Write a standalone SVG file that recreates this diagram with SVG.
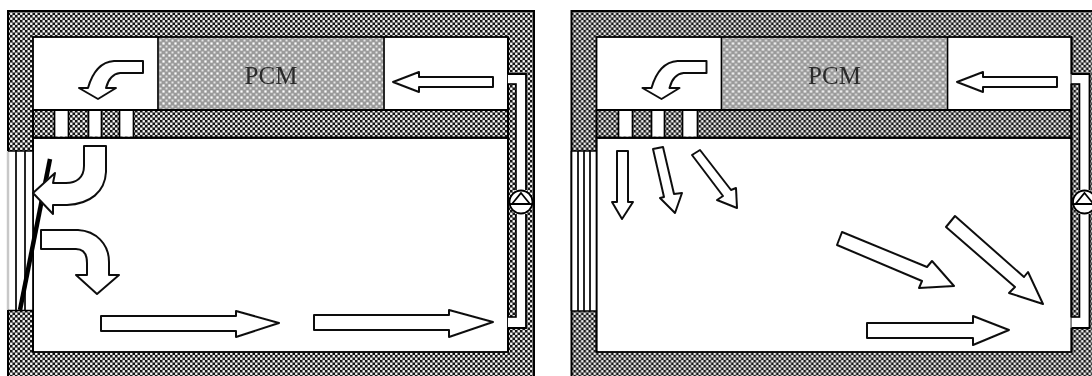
<svg xmlns="http://www.w3.org/2000/svg" width="1092" height="376" viewBox="0 0 1092 376">
<style>
.wall{fill:url(#chk);stroke:#000;stroke-width:2}
.room{fill:#fff;stroke:#000;stroke-width:1.8}
.pcm{fill:url(#dots);stroke:none}
.arrow{fill:#fff;stroke:#111;stroke-width:2;stroke-linejoin:round}
.slot{fill:#fff;stroke:none}
.glass{stroke:#000;stroke-width:1.7;fill:none}
.thin{fill:url(#chk);stroke:#000;stroke-width:1.6}
.soft{filter:url(#soft)}
text{font-family:"Liberation Serif","Times New Roman",serif;font-size:25px;fill:#2a2a2a;text-anchor:middle}
</style>
<defs>
<filter id="soft" x="-5%" y="-5%" width="110%" height="110%" filterUnits="objectBoundingBox"><feGaussianBlur stdDeviation="0.4"/></filter>
<pattern id="chk" width="5" height="5" patternUnits="userSpaceOnUse">
<rect width="5" height="5" fill="#777"/>
<rect x="0" y="0" width="2.500" height="2.500" fill="#141414"/>
<rect x="2.500" y="2.500" width="2.500" height="2.500" fill="#141414"/>
<rect x="2.700" y="0.200" width="2.100" height="2.100" fill="#fff"/>
<rect x="0.200" y="2.700" width="2.100" height="2.100" fill="#fff"/>
</pattern>
<pattern id="dots" width="6" height="6" patternUnits="userSpaceOnUse">
<rect width="6" height="6" fill="#9a9a9a"/>
<rect x="0.400" y="0.400" width="2.200" height="2.200" fill="#fff"/>
<rect x="3.500" y="3.500" width="2" height="2" fill="#e6e6e6"/>
</pattern>
<g id="top">
<rect class="wall" x="8" y="11" width="526" height="372"/>
<rect class="room" x="33" y="37" width="475" height="73"/>
<rect class="pcm" x="159" y="38" width="224" height="71"/>
<path class="glass" d="M158 37V110M384 37V110"/>
<rect class="room" x="33" y="138" width="475" height="214"/>
<rect x="33" y="110" width="475" height="27.500" class="wall"/>
<rect x="508" y="74" width="18" height="254" fill="#fff"/>
<path fill="none" stroke="#000" stroke-width="1.800" d="M508 74H526V328H508"/>
<rect class="thin" x="508" y="84" width="8" height="233"/>
<path fill="none" stroke="#000" stroke-width="1.800" d="M508 37V74M508 84V317M508 328V352"/>
</g>
</defs>

<g id="building-left" class="soft">
<use href="#top"/>
<g id="slots-left">
<rect class="slot" x="55" y="111" width="13" height="25.500"/>
<rect class="slot" x="89" y="111" width="12" height="25.500"/>
<rect class="slot" x="120" y="111" width="13" height="25.500"/>
<path class="glass" d="M54.500 111V137M68.500 111V137M88.500 111V137M101.500 111V137M119.500 111V137M133.500 111V137"/>
</g>
<g id="window-left">
<rect x="8" y="151" width="25" height="159.500" fill="#fff"/>
<path fill="none" stroke="#c8c8c8" stroke-width="2.500" d="M8 151V310"/>
<path class="glass" d="M16 151V310M25 151V310M33 138V352M8 151H33M8 310.500H33"/>
</g>
<g id="pump-left">
<rect x="515" y="190" width="12" height="24" fill="#fff"/>
<circle cx="521" cy="202" r="11.500" fill="#fff" stroke="#000" stroke-width="1.800"/>
<path d="M521 193L530 204H512Z" fill="#fff" stroke="#000" stroke-width="1.800"/>
<path d="M510 204H532" stroke="#000" stroke-width="1.800"/>
</g>
</g>
<text id="label-pcm-left" class="soft" x="271" y="84">PCM</text>

<g id="building-right" class="soft">
<g transform="translate(563.500 0)"><use href="#top"/></g>
<g id="slots-right">
<rect class="slot" x="619" y="111" width="13" height="25.500"/>
<rect class="slot" x="652" y="111" width="12" height="25.500"/>
<rect class="slot" x="683" y="111" width="14" height="25.500"/>
<path class="glass" d="M618.500 111V137M632.500 111V137M651.500 111V137M664.500 111V137M682.500 111V137M697.500 111V137"/>
</g>
<g id="window-right">
<rect x="571.500" y="151" width="25" height="160" fill="#fff"/>
<path class="glass" d="M571.500 151V311M578 151V311M584 151V311M590 151V311M596.500 138V352M571.500 151H596.500M571.500 311H596.500"/>
</g>
<g id="pump-right" transform="translate(563.500 0)">
<rect x="515" y="190" width="12" height="24" fill="#fff"/>
<circle cx="521" cy="202" r="11.500" fill="#fff" stroke="#000" stroke-width="1.800"/>
<path d="M521 193L530 204H512Z" fill="#fff" stroke="#000" stroke-width="1.800"/>
<path d="M510 204H532" stroke="#000" stroke-width="1.800"/>
</g>
</g>
<text id="label-pcm-right" class="soft" x="834.500" y="84">PCM</text>

<g id="connectors" class="soft">
<g id="arrows-left">
<path d="M20 310L50 159" fill="none" stroke="#000" stroke-width="4.500"/>
<path class="arrow" d="M143 61H114C100 62 92 74 88 88H79L98 99L116 88H106C108 80 112 74 120 73H143Z"/>
<path class="arrow" d="M493 77H419V72L393 82L419 92V87H493Z"/>
<path class="arrow" d="M84 146H106V172C105 192 90 204 67 205H53V214L33 193L55 173L53 183H66C76 183 84 178 84 166Z"/>
<path class="arrow" d="M41 230H78C96 231 109 244 109 262V275H119L97 294L76 275H87V263C87 255 84 249 76 249H41Z"/>
<path class="arrow" d="M101 316H236V311L279 323L236 337V331H101Z"/>
<path class="arrow" d="M314 315H449V310L493 322L449 337V330H314Z"/>
</g>
<g id="arrows-right">
<path class="arrow" d="M706.500 61H677.500C663.500 62 655.500 74 651.500 88H642.500L661.500 99L679.500 88H669.500C671.500 80 675.500 74 683.500 73H706.500Z"/>
<path class="arrow" d="M1057 77H983V72L957 82L983 92V87H1057Z"/>
<path class="arrow" d="M617 151H628V202H633L622 219L612 202H617Z"/>
<path class="arrow" d="M653 149L663 147L674 194L682 193L675 213L660 198L664 197Z"/>
<path class="arrow" d="M692 155L700 150L731 190L736 188L737 208L717 200L723 196Z"/>
<path class="arrow" d="M842 232L927 267L932 261L954 286L919 288L922 281L837 245Z"/>
<path class="arrow" d="M955 216L1024 277L1028 272L1043 304L1009 293L1015 287L946 227Z"/>
<path class="arrow" d="M867 323H973V316L1009 330L973 345V338H867Z"/>
</g>
</g>
</svg>
